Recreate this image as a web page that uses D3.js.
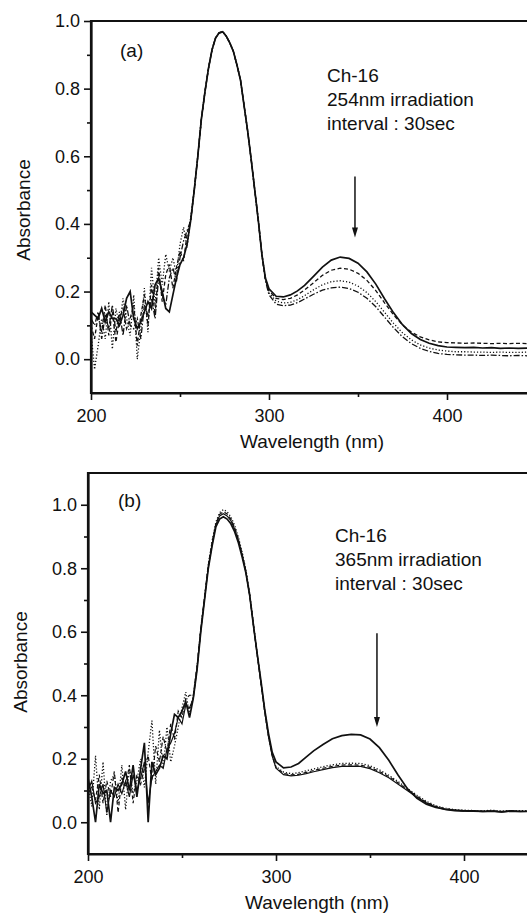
<!DOCTYPE html>
<html>
<head>
<meta charset="utf-8">
<script src="https://cdn.jsdelivr.net/npm/d3@7"></script>
<style>
  body { margin: 0; background: #fff; }
  svg { display: block; }
  text { font-family: "Liberation Sans", Arial, sans-serif; fill: #111; }
</style>
</head>
<body>
<svg id="chart" width="527" height="917"></svg>
<script>
// UV-vis spectra, Ch-16, (a) 254nm and (b) 365nm irradiation
const wavelengths = [
  200,202,204,206,208,210,212,214,216,218,220,222,224,226,228,230,232,234,236,238,240,242,244,246,248,250,252,254,
  256,258,260,262,264,266,268,270,272,274,276,278,280,282,284,286,288,290,292,294,296,298,300,
  304,308,312,316,320,325,330,335,340,345,350,355,360,365,370,375,380,385,390,395,400,405,410,415,420,425,430,435,440,445,450
];

// panel (a) - 254nm
const aSolid = [
  0.14,0.13,0.12,0.15,0.11,0.14,0.12,0.12,0.10,0.13,0.18,0.20,0.12,0.09,0.11,0.14,0.17,0.15,0.22,0.24,0.20,0.15,0.14,0.19,0.24,0.28,0.30,0.34,
  0.41,0.50,0.60,0.71,0.79,0.86,0.915,0.95,0.965,0.968,0.955,0.935,0.91,0.87,0.825,0.75,0.675,0.59,0.50,0.41,0.31,0.24,0.208,
  0.186,0.184,0.190,0.202,0.218,0.245,0.272,0.293,0.302,0.298,0.284,0.258,0.222,0.178,0.137,0.102,0.076,0.058,0.047,0.040,
  0.036,0.035,0.034,0.035,0.033,0.034,0.032,0.033,0.032,0.033,0.032
];
const aDashed = [
  0.10,0.06,0.13,0.08,0.16,0.07,0.14,0.05,0.12,0.15,0.09,0.12,0.16,0.04,0.13,0.19,0.10,0.22,0.13,0.27,0.17,0.25,0.28,0.21,0.27,0.32,0.29,0.37,
  0.41,0.50,0.60,0.71,0.79,0.86,0.915,0.95,0.965,0.968,0.955,0.935,0.91,0.87,0.825,0.75,0.675,0.59,0.50,0.41,0.31,0.238,0.202,
  0.180,0.176,0.180,0.190,0.205,0.226,0.248,0.263,0.269,0.266,0.254,0.233,0.203,0.166,0.131,0.101,0.080,0.066,0.057,0.051,
  0.049,0.048,0.047,0.048,0.047,0.046,0.047,0.046,0.047,0.046,0.046
];
const aDotted = [
  0.08,-0.03,0.04,0.12,0.06,0.17,0.03,0.15,0.10,0.18,0.12,0.07,0.19,0.00,0.09,0.21,0.08,0.27,0.16,0.30,0.22,0.31,0.26,0.30,0.25,0.34,0.39,0.33,
  0.42,0.50,0.60,0.71,0.79,0.86,0.915,0.95,0.965,0.968,0.955,0.935,0.91,0.87,0.825,0.75,0.675,0.59,0.50,0.41,0.31,0.235,0.196,
  0.172,0.166,0.168,0.176,0.188,0.205,0.220,0.229,0.232,0.228,0.216,0.197,0.170,0.138,0.106,0.078,0.057,0.042,0.033,0.027,
  0.024,0.022,0.022,0.021,0.021,0.020,0.021,0.020,0.020,0.021,0.020
];
const aDashDot = [
  0.12,0.10,0.14,0.06,0.13,0.09,0.16,0.08,0.14,0.07,0.16,0.10,0.09,0.12,0.06,0.16,0.13,0.18,0.12,0.24,0.19,0.16,0.24,0.27,0.23,0.30,0.35,0.38,
  0.41,0.50,0.60,0.71,0.79,0.86,0.915,0.95,0.965,0.968,0.955,0.935,0.91,0.87,0.825,0.75,0.675,0.59,0.50,0.41,0.31,0.232,0.190,
  0.163,0.158,0.160,0.167,0.178,0.192,0.204,0.211,0.213,0.209,0.198,0.180,0.155,0.124,0.093,0.066,0.046,0.032,0.023,0.017,
  0.014,0.013,0.012,0.012,0.011,0.012,0.011,0.010,0.011,0.010,0.010
];

// panel (b) - 365nm
const bSolid = [
  0.14,0.08,0.00,0.12,0.09,0.10,0.00,0.11,0.10,0.12,0.16,0.10,0.18,0.08,0.17,0.25,0.00,0.19,0.15,0.17,0.21,0.20,0.28,0.34,0.33,0.35,0.38,0.33,
  0.39,0.48,0.60,0.70,0.80,0.87,0.93,0.955,0.962,0.955,0.94,0.915,0.88,0.835,0.785,0.715,0.62,0.53,0.445,0.355,0.28,0.22,0.19,
  0.171,0.174,0.185,0.205,0.225,0.245,0.263,0.273,0.277,0.275,0.262,0.235,0.195,0.148,0.105,0.075,0.057,0.047,0.041,0.038,
  0.036,0.036,0.034,0.035,0.033,0.036,0.034,0.035,0.033,0.035,0.034
];
const bDotted = [
  0.12,0.05,0.21,0.04,0.19,0.02,0.13,0.15,0.06,0.18,0.04,0.17,0.09,0.13,0.20,0.11,0.22,0.32,0.12,0.29,0.17,0.30,0.19,0.24,0.30,0.36,0.41,0.34,
  0.40,0.49,0.61,0.71,0.81,0.885,0.945,0.975,0.985,0.978,0.962,0.935,0.898,0.85,0.795,0.72,0.625,0.53,0.44,0.35,0.272,0.21,0.175,
  0.158,0.153,0.156,0.162,0.168,0.175,0.181,0.185,0.186,0.185,0.178,0.165,0.148,0.128,0.106,0.085,0.066,0.052,0.044,0.040,
  0.038,0.037,0.036,0.038,0.035,0.037,0.036,0.037,0.035,0.037,0.036
];
const bDashed = [
  0.09,0.11,0.07,0.15,0.06,0.13,0.08,0.16,0.03,0.14,0.11,0.18,0.06,0.15,0.12,0.17,0.21,0.13,0.24,0.19,0.27,0.22,0.31,0.26,0.35,0.33,0.39,0.40,
  0.40,0.49,0.61,0.71,0.81,0.88,0.94,0.970,0.978,0.971,0.955,0.928,0.892,0.845,0.79,0.717,0.622,0.528,0.44,0.35,0.272,0.21,0.172,
  0.154,0.149,0.151,0.157,0.163,0.170,0.176,0.180,0.181,0.180,0.173,0.160,0.144,0.124,0.102,0.082,0.063,0.050,0.042,0.038,
  0.036,0.035,0.035,0.036,0.034,0.035,0.034,0.035,0.034,0.035,0.034
];
const bThin = [
  0.10,0.13,0.06,0.08,0.12,0.03,0.10,0.08,0.12,0.09,0.13,0.08,0.15,0.10,0.14,0.19,0.06,0.14,0.16,0.18,0.17,0.23,0.25,0.28,0.33,0.31,0.37,0.36,
  0.39,0.485,0.605,0.705,0.805,0.875,0.937,0.965,0.972,0.965,0.95,0.923,0.888,0.842,0.788,0.715,0.62,0.527,0.438,0.348,0.27,0.208,0.17,
  0.150,0.146,0.148,0.153,0.159,0.166,0.172,0.176,0.177,0.176,0.169,0.156,0.140,0.120,0.099,0.079,0.061,0.048,0.040,0.036,
  0.035,0.034,0.033,0.035,0.032,0.034,0.033,0.034,0.032,0.034,0.033
];

const xMajor = [200, 300, 400];
const xMinor = [250, 350];
const yMajor = [0.0, 0.2, 0.4, 0.6, 0.8, 1.0];
const yMinor = [0.1, 0.3, 0.5, 0.7, 0.9];

const svg = d3.select('#chart');
const width = +svg.attr('width');

const dashes = { solid: null, dashed: '4,2.5', dotted: '1.2,2', dashdot: '6,2,1.5,2' };

function drawPanel(p) {
  const x = d3.scaleLinear().domain([200, 450]).range([p.left, p.left + p.per100 * 2.5]);
  const y = d3.scaleLinear().domain(p.yDomain).range([p.bottom, p.top]);
  const g = svg.append('g');

  g.append('clipPath').attr('id', p.id + '-clip')
    .append('rect')
    .attr('x', p.left).attr('y', p.top)
    .attr('width', width - p.left).attr('height', p.bottom - p.top);

  const line = d3.line()
    .x((d, i) => x(wavelengths[i]))
    .y(d => y(d));

  const curves = g.append('g').attr('clip-path', `url(#${p.id}-clip)`);
  p.series.forEach(s => {
    curves.append('path')
      .datum(s.values)
      .attr('d', line)
      .attr('fill', 'none')
      .attr('stroke', '#111')
      .attr('stroke-width', s.width)
      .attr('stroke-dasharray', dashes[s.style]);
  });

  // x axis
  const xAxis = g.append('g').attr('transform', `translate(0,${p.bottom})`)
    .call(d3.axisBottom(x).tickValues(xMajor).tickSize(7).tickSizeOuter(0).tickFormat(d3.format('d')));
  xAxis.selectAll('.tick text').attr('y', 29).attr('dy', 0).attr('font-size', 18);
  g.append('g').attr('transform', `translate(0,${p.bottom})`)
    .call(d3.axisBottom(x).tickValues(xMinor).tickSize(4).tickFormat(''))
    .select('.domain').remove();

  // y axis
  const yAxis = g.append('g').attr('transform', `translate(${p.left},0)`)
    .call(d3.axisLeft(y).tickValues(yMajor).tickSize(7).tickSizeOuter(0).tickPadding(4).tickFormat(d3.format('.1f')));
  yAxis.selectAll('.tick text').attr('font-size', 18);
  g.append('g').attr('transform', `translate(${p.left},0)`)
    .call(d3.axisLeft(y).tickValues(yMinor).tickSize(4).tickFormat(''))
    .select('.domain').remove();

  g.selectAll('.domain').attr('stroke-width', 2.2).attr('stroke', '#111');
  g.selectAll('.tick line').attr('stroke-width', 1.6).attr('stroke', '#111');
  g.selectAll('.tick text').attr('font-family', '"Liberation Sans", Arial, sans-serif').attr('fill', '#111');

  // full-length axes and top frame
  g.append('line')
    .attr('x1', p.left).attr('x2', width)
    .attr('y1', p.bottom).attr('y2', p.bottom)
    .attr('stroke', '#111').attr('stroke-width', 2.2);
  g.append('line')
    .attr('x1', p.left).attr('x2', width)
    .attr('y1', p.top).attr('y2', p.top)
    .attr('stroke', '#111').attr('stroke-width', 2.2);
  g.append('line')
    .attr('x1', p.left).attr('x2', p.left)
    .attr('y1', p.top - 1).attr('y2', p.bottom + 1)
    .attr('stroke', '#111').attr('stroke-width', 2.2);

  // axis titles
  g.append('text')
    .attr('transform', `translate(${p.yTitleX},${p.yTitleY}) rotate(-90)`)
    .attr('text-anchor', 'middle')
    .attr('font-size', 19)
    .text('Absorbance');
  g.append('text')
    .attr('x', p.xTitleX).attr('y', p.bottom + 55)
    .attr('text-anchor', 'middle')
    .attr('font-size', 19)
    .text('Wavelength (nm)');

  // panel tag
  g.append('text')
    .attr('x', p.tagX).attr('y', p.tagY)
    .attr('font-size', 19)
    .text(p.tag);

  // note block
  p.note.forEach((t, i) => {
    g.append('text')
      .attr('x', p.noteX).attr('y', p.noteY + i * 24)
      .attr('font-size', 19)
      .text(t);
  });

  // arrow
  const ax = x(p.arrow.wl);
  const ay1 = y(p.arrow.from);
  const ay2 = y(p.arrow.to);
  g.append('line')
    .attr('x1', ax).attr('x2', ax)
    .attr('y1', ay1).attr('y2', ay2 - 6)
    .attr('stroke', '#111').attr('stroke-width', 1.5);
  g.append('polygon')
    .attr('points', [[ax - 3, ay2 - 10], [ax + 3, ay2 - 10], [ax, ay2]].map(d => d.join(',')).join(' '))
    .attr('fill', '#111');
}

drawPanel({
  id: 'a', left: 91, per100: 178, top: 21, bottom: 393, yDomain: [-0.1, 1.0],
  yTitleX: 30, yTitleY: 210, xTitleX: 312,
  tag: '(a)', tagX: 120, tagY: 57,
  note: ['Ch-16', '254nm irradiation', 'interval : 30sec'], noteX: 327, noteY: 82,
  arrow: { wl: 348.3, from: 0.54, to: 0.36 },
  series: [
    { values: aSolid, style: 'solid', width: 1.7 },
    { values: aDashed, style: 'dashed', width: 1.3 },
    { values: aDotted, style: 'dotted', width: 1.3 },
    { values: aDashDot, style: 'dashdot', width: 1.3 }
  ]
});

drawPanel({
  id: 'b', left: 88, per100: 188, top: 473, bottom: 854, yDomain: [-0.1, 1.1],
  yTitleX: 27, yTitleY: 662, xTitleX: 317,
  tag: '(b)', tagX: 118, tagY: 507,
  note: ['Ch-16', '365nm irradiation', 'interval : 30sec'], noteX: 335, noteY: 542,
  arrow: { wl: 353.7, from: 0.595, to: 0.30 },
  series: [
    { values: bSolid, style: 'solid', width: 1.7 },
    { values: bDotted, style: 'dotted', width: 1.3 },
    { values: bDashed, style: 'dashed', width: 1.2 },
    { values: bThin, style: 'solid', width: 1.2 }
  ]
});
</script>
</body>
</html>
